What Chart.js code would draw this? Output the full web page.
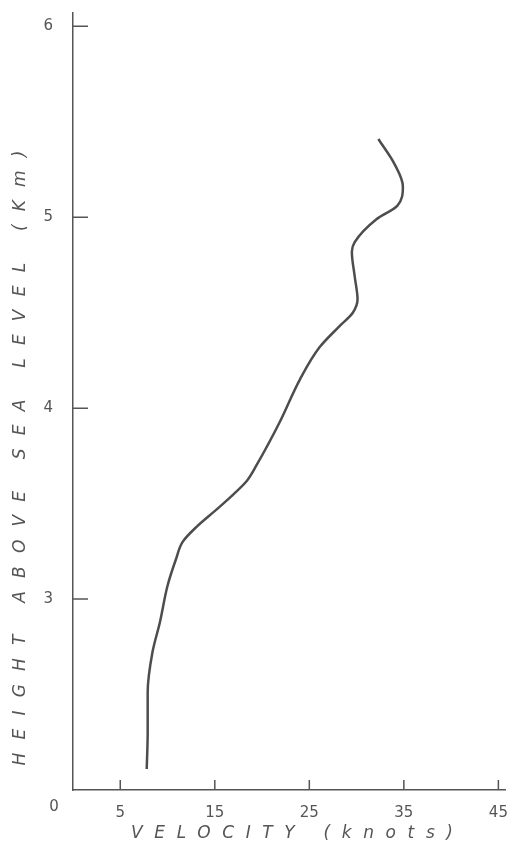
<!DOCTYPE html>
<html>
<head>
<meta charset="utf-8">
<script src="https://cdn.jsdelivr.net/npm/chart.js@4.4.0/dist/chart.umd.min.js"></script>
<style>
  html, body { margin: 0; padding: 0; background: #fff; }
</style>
</head>
<body>
<canvas id="perfil" width="513" height="849"></canvas>
<script>
// height on the drawn (broken) axis: the bottom line "0" sits where 2 km would be
const heights = [2.11, 2.30, 2.51, 2.72, 2.88, 3.07, 3.21, 3.30, 3.38, 3.47, 3.55, 3.62, 3.70, 3.93,
                 4.15, 4.32, 4.43, 4.50, 4.57, 4.69, 4.82, 4.87, 4.99, 5.06, 5.16, 5.28, 5.41];
const velocity = [7.8, 7.9, 7.9, 8.4, 9.2, 10.0, 10.9, 11.6, 13.1, 15.2, 17.0, 18.4, 19.4, 21.9,
                  24.0, 26.1, 28.2, 29.6, 30.1, 29.8, 29.5, 29.8, 32.1, 34.3, 34.9, 34.0, 32.3];
const xTicks = [5, 15, 25, 35, 45];
const yTicks = [3, 4, 5, 6];
const originLabel = '0';
const xTitle = 'VELOCITY (knots)';
const yTitle = 'HEIGHT ABOVE SEA LEVEL (Km)';

const ink = '#555';
const tickFont = '15px "DejaVu Sans"';
const titleFont = 'italic 17px "DejaVu Sans"';

function spacedText(ctx, text, x, y, span) {
    ctx.letterSpacing = '0px';
    const w = ctx.measureText(text).width;
    const sp = (span - w) / (text.length - 1);
    ctx.letterSpacing = sp + 'px';
    ctx.fillText(text, x + sp / 2, y);
    ctx.letterSpacing = '0px';
}

const handDrawn = {
    id: 'handDrawn',
    afterDraw(chart) {
        const ctx = chart.ctx;
        const xs = chart.scales.x, ys = chart.scales.y;
        const x0 = xs.getPixelForValue(0), y0 = ys.getPixelForValue(2);
        ctx.save();
        ctx.strokeStyle = ink;
        ctx.lineWidth = 1.5;
        // inward tick marks
        ctx.beginPath();
        xTicks.forEach(v => {
            const px = xs.getPixelForValue(v);
            ctx.moveTo(px, y0);
            ctx.lineTo(px, y0 - 10);
        });
        yTicks.forEach(v => {
            const py = ys.getPixelForValue(v);
            ctx.moveTo(x0, py);
            ctx.lineTo(x0 + 15, py);
        });
        ctx.stroke();

        ctx.fillStyle = ink;
        ctx.font = tickFont;
        ctx.textAlign = 'center';
        ctx.textBaseline = 'middle';
        ctx.fillText(originLabel, x0 - 19, y0 + 17);

        ctx.font = titleFont;
        spacedText(ctx, xTitle, 292, 834, 322);
        ctx.translate(21, 458);
        ctx.rotate(-Math.PI / 2);
        spacedText(ctx, yTitle, 0, 0, 615);
        ctx.restore();
    }
};

new Chart(document.getElementById('perfil').getContext('2d'), {
    type: 'line',
    data: {
        datasets: [{
            data: heights.map((h, i) => ({ x: velocity[i], y: h })),
            borderColor: '#4d4d4d',
            borderWidth: 2.5,
            pointRadius: 0,
            fill: false,
            cubicInterpolationMode: 'monotone'
        }]
    },
    options: {
        responsive: false,
        animation: false,
        indexAxis: 'y',
        layout: { padding: { left: 0, right: 8, top: 13, bottom: 0 } },
        plugins: { legend: { display: false }, tooltip: { enabled: false } },
        scales: {
            x: {
                type: 'linear',
                min: 0,
                max: 45.7,
                afterBuildTicks: s => { s.ticks = xTicks.map(v => ({ value: v })); },
                afterFit: s => { s.height = 59; s.paddingLeft = 0; s.paddingRight = 0; },
                grid: { display: false, drawTicks: false },
                border: { display: true, color: ink, width: 1.5 },
                ticks: { color: ink, font: { family: 'DejaVu Sans', size: 15 }, padding: 14, maxRotation: 0 }
            },
            y: {
                type: 'linear',
                min: 2,
                max: 6.07,
                afterBuildTicks: s => { s.ticks = yTicks.map(v => ({ value: v })); },
                afterFit: s => { s.width = 73; s.paddingTop = 0; s.paddingBottom = 0; },
                grid: { display: false, drawTicks: false },
                border: { display: true, color: ink, width: 1.5 },
                ticks: { color: ink, font: { family: 'DejaVu Sans', size: 15 }, padding: 20 }
            }
        }
    },
    plugins: [handDrawn]
});
</script>
</body>
</html>
